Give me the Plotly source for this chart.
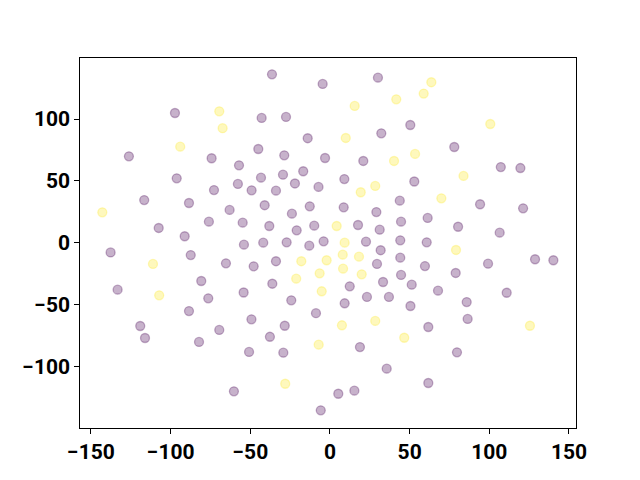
import plotly.graph_objects as go

# Class 0 (purple) points
x_purple = [-97.3, -126.2, -74.3, -57.1, -96.2, -57.8, -72.8, -49.2, -36.4, -4.6, 30.1, 50.4,
            -42.9, -27.6, -14.0, 32.2, -45.0, -28.7, -3.1, 20.9, -43.3, -29.5, -16.8, 9.0,
            -22.0, -7.2, 78.0, 107.2, 119.5, 52.9, -116.6, -88.5, -63.0, -76.0, -54.8, -107.5,
            -91.2, -54.0, -137.7, -87.4, -65.3, -47.9, -80.8, -133.3, -54.2, -76.4, -88.5, -119.1,
            -116.1, -69.5, -82.2, -49.3, -50.8, -60.3, -33.9, -41.0, -23.9, -12.7, 8.6, 29.1,
            43.8, -38.1, -20.9, -9.9, 17.6, 31.2, 44.6, -41.9, -27.2, -13.0, -4.0, 22.6,
            31.8, 44.1, -33.9, 29.5, 44.1, 44.6, -36.2, 33.3, 12.4, 51.3, -24.3, 23.2,
            37.0, 9.2, 50.5, -8.8, 94.2, 121.2, 61.3, 80.4, 106.5, 60.7, 59.6, 78.9,
            99.2, 128.7, 140.2, 67.8, 110.9, 85.8, -28.4, -37.7, -29.3, 18.8, 35.6, 5.2,
            15.3, -5.8, 86.4, 61.7, 79.7, 61.7]
y_purple = [104.9, 69.9, 68.3, 62.6, 52.1, 47.5, 42.6, 42.4, 136.2, 128.4, 133.5, 95.2,
            100.9, 101.7, 84.5, 88.5, 75.8, 70.7, 68.5, 66.1, 52.6, 55.0, 57.8, 51.5,
            47.9, 45.1, 77.4, 61.2, 60.4, 49.5, 34.5, 32.1, 26.5, 17.0, 16.2, 11.9,
            5.2, -1.6, -7.9, -10.0, -16.7, -19.1, -31.0, -38.0, -40.3, -45.0, -55.3, -67.4,
            -77.1, -70.6, -80.3, -62.0, -88.4, -120.2, 42.1, 30.3, 23.5, 29.4, 28.6, 24.8,
            34.0, 13.5, 10.0, 13.8, 14.3, 10.5, 17.0, 0.0, 0.3, -2.4, 1.1, 0.8,
            -6.1, 1.9, -15.0, -17.2, -12.1, -26.1, -33.2, -31.8, -35.3, -34.0, -46.6, -43.9,
            -43.9, -49.0, -51.2, -57.0, 31.1, 27.8, 20.0, 12.9, 8.1, 0.3, -18.9, -24.5,
            -17.0, -13.4, -14.2, -38.8, -40.5, -48.0, -67.2, -76.1, -89.0, -84.4, -101.9, -122.2,
            -119.7, -135.6, -61.7, -68.2, -88.7, -113.5]

# Class 1 (yellow) points
x_yellow = [-69.5, -67.4, -94.0, 41.6, 15.5, 9.9, 40.2, 53.4, 28.4, 63.6, 58.8, 100.6,
            83.8, -142.9, -111.1, -107.2, 19.3, 4.2, 9.2, 8.0, 18.2, -2.1, -18.0, 8.2,
            -6.5, 19.9, -21.2, -5.2, 69.9, 79.1, 7.5, 28.4, -7.1, 46.6, -28.1, 125.5]
y_yellow = [106.3, 92.6, 77.7, 116.0, 110.6, 84.7, 66.1, 71.8, 45.9, 129.8, 120.6, 96.0,
            54.0, 24.6, -17.2, -42.6, 40.8, 13.5, 0.0, -9.7, -11.3, -14.2, -15.0, -21.0,
            -24.8, -25.6, -29.1, -39.3, 35.9, -5.9, -66.8, -63.3, -82.5, -76.9, -114.1, -67.2]

x_ticks = [-150, -100, -50, 0, 50, 100, 150]
y_ticks = [-100, -50, 0, 50, 100]

purple = "rgba(68,1,84,0.3)"
yellow = "rgba(253,231,37,0.3)"

fig = go.Figure()
fig.add_trace(go.Scatter(x=x_purple, y=y_purple, mode="markers",
                         marker=dict(size=9, color=purple, line=dict(color=purple, width=1.3)),
                         showlegend=False))
fig.add_trace(go.Scatter(x=x_yellow, y=y_yellow, mode="markers",
                         marker=dict(size=9, color=yellow, line=dict(color=yellow, width=1.3)),
                         showlegend=False))

tickfont = dict(family="Roboto", size=21, color="black", weight="bold")
axis_common = dict(showgrid=False, zeroline=False, showline=True, linecolor="black",
                   linewidth=1, mirror=True, ticks="outside", ticklen=4.7, tickwidth=1,
                   tickcolor="black", tickfont=tickfont)

fig.update_layout(
    width=640, height=480,
    margin=dict(l=72, r=72, t=50, b=60, autoexpand=False),
    paper_bgcolor="white", plot_bgcolor="white",
    xaxis=dict(range=[-156.9, 154.4], tickvals=x_ticks, **axis_common),
    yaxis=dict(range=[-149.9, 149.4], tickvals=y_ticks, **axis_common),
)

fig.write_html("out.html")
